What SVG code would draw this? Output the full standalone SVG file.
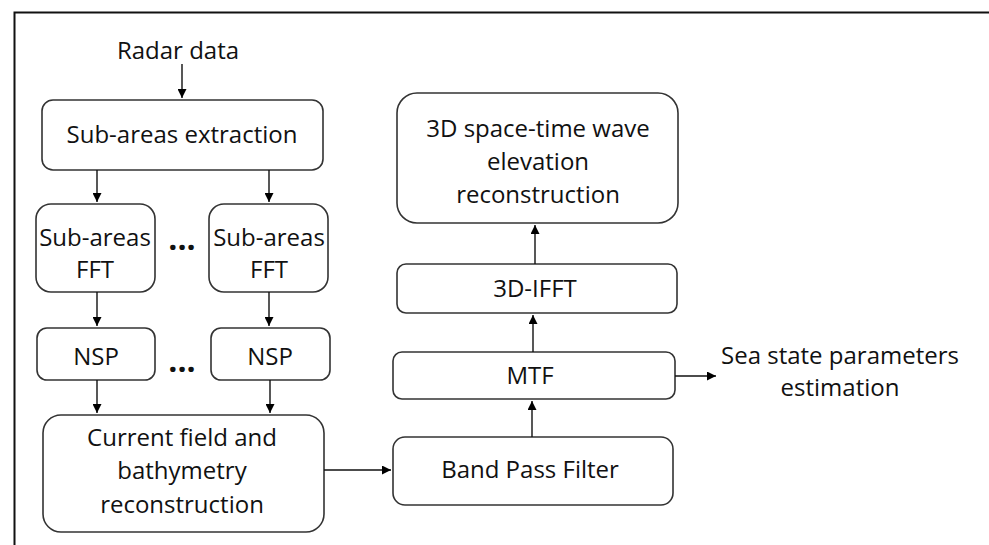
<svg xmlns="http://www.w3.org/2000/svg" width="989" height="545" viewBox="0 0 989 545">
  <defs>
    <marker id="arrow" viewBox="0 0 10 10" refX="10" refY="5" markerWidth="9" markerHeight="9" markerUnits="userSpaceOnUse" orient="auto">
      <path d="M0,0 L10,5 L0,10 z" fill="#000"/>
    </marker>
    <style>
      .box { fill: #fff; stroke: #333; stroke-width: 1.6; }
      .lbl { font-family: "Open Sans", "Noto Sans", sans-serif; font-size: 24px; fill: #111; text-anchor: middle; }
      .dots { font-family: "Open Sans", sans-serif; font-size: 32px; font-weight: bold; fill: #111; text-anchor: middle; }
      .conn { stroke: #111; stroke-width: 1.4; fill: none; marker-end: url(#arrow); }
    </style>
  </defs>
  <rect x="0" y="0" width="989" height="545" fill="#fff"/>
  <!-- outer frame (top and left edges) -->
  <path d="M14.5,545 L14.5,12.5 L989,12.5" fill="none" stroke="#111" stroke-width="2"/>

  <text class="lbl" x="178" y="59">Radar data</text>

  <g id="extraction">
    <rect class="box" x="42" y="100" width="281" height="70" rx="11"/>
    <text class="lbl" x="182" y="143">Sub-areas extraction</text>
  </g>
  <g id="fft1">
    <rect class="box" x="36" y="204" width="119" height="88" rx="15"/>
    <text class="lbl" x="95" y="246">Sub-areas</text>
    <text class="lbl" x="95" y="278">FFT</text>
  </g>
  <g id="fft2">
    <rect class="box" x="209" y="204" width="119" height="88" rx="15"/>
    <text class="lbl" x="269" y="246">Sub-areas</text>
    <text class="lbl" x="269" y="278">FFT</text>
  </g>
  <text class="dots" x="182" y="250">...</text>
  <g id="nsp1">
    <rect class="box" x="37" y="328" width="118" height="52" rx="10"/>
    <text class="lbl" x="96" y="365">NSP</text>
  </g>
  <g id="nsp2">
    <rect class="box" x="211" y="328" width="119" height="52" rx="10"/>
    <text class="lbl" x="270" y="365">NSP</text>
  </g>
  <text class="dots" x="182" y="372">...</text>
  <g id="current">
    <rect class="box" x="43" y="415" width="281" height="117" rx="18"/>
    <text class="lbl" x="182" y="446">Current field and</text>
    <text class="lbl" x="182" y="479">bathymetry</text>
    <text class="lbl" x="182" y="513">reconstruction</text>
  </g>
  <g id="bpf">
    <rect class="box" x="393" y="437" width="280" height="68" rx="12"/>
    <text class="lbl" x="530" y="478">Band Pass Filter</text>
  </g>
  <g id="mtf">
    <rect class="box" x="393" y="352" width="282" height="47" rx="9"/>
    <text class="lbl" x="530" y="384">MTF</text>
  </g>
  <g id="ifft">
    <rect class="box" x="397" y="264" width="280" height="49" rx="9"/>
    <text class="lbl" x="535" y="297">3D-IFFT</text>
  </g>
  <g id="wave">
    <rect class="box" x="397" y="93" width="281" height="130" rx="20"/>
    <text class="lbl" x="538" y="137">3D space-time wave</text>
    <text class="lbl" x="538" y="170">elevation</text>
    <text class="lbl" x="538" y="203">reconstruction</text>
  </g>
  <g id="seastate">
    <text class="lbl" x="840" y="364">Sea state parameters</text>
    <text class="lbl" x="840" y="396">estimation</text>
  </g>

  <g id="connectors">
    <line class="conn" x1="182" y1="64" x2="182" y2="98"/>
    <line class="conn" x1="97" y1="170" x2="97" y2="202"/>
    <line class="conn" x1="269" y1="170" x2="269" y2="202"/>
    <line class="conn" x1="97" y1="292" x2="97" y2="326"/>
    <line class="conn" x1="269" y1="292" x2="269" y2="326"/>
    <line class="conn" x1="97" y1="380" x2="97" y2="413"/>
    <line class="conn" x1="270" y1="380" x2="270" y2="413"/>
    <line class="conn" x1="324" y1="470" x2="391" y2="470"/>
    <line class="conn" x1="532" y1="437" x2="532" y2="401"/>
    <line class="conn" x1="533" y1="352" x2="533" y2="315"/>
    <line class="conn" x1="535" y1="264" x2="535" y2="225"/>
    <line class="conn" x1="675" y1="376" x2="716" y2="376"/>
  </g>
</svg>
